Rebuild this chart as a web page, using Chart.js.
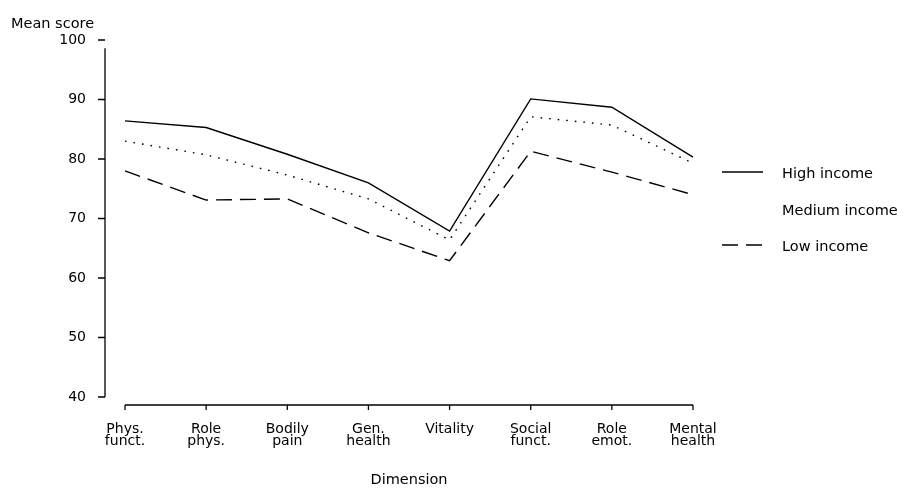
<!DOCTYPE html>
<html>
<head>
<meta charset="utf-8">
<title>Mean score by dimension and income</title>
<script src="https://cdn.jsdelivr.net/npm/chart.js@4/dist/chart.umd.min.js"></script>
<style>
  html, body { margin: 0; padding: 0; background: #fff; }
  canvas { display: block; }
</style>
</head>
<body>
<canvas id="chart" width="906" height="491"></canvas>
<script>
// Chart values.
var dimensions = [
    ['Phys.', 'funct.'], ['Role', 'phys.'], ['Bodily', 'pain'], ['Gen.', 'health'],
    'Vitality', ['Social', 'funct.'], ['Role', 'emot.'], ['Mental', 'health']
];
var highIncome = [86.4, 85.3, 80.8, 76.0, 67.9, 90.1, 88.7, 80.3];
var mediumIncome = [83.0, 80.7, 77.3, 73.3, 66.4, 87.1, 85.7, 79.3];
var lowIncome = [78.0, 73.1, 73.3, 67.6, 62.9, 81.3, 77.8, 74.0];
var seriesNames = ['High income', 'Medium income', 'Low income'];
var scoreTicks = [40, 50, 60, 70, 80, 90, 100];

var ink = '#000';
var fontFamily = '"DejaVu Sans", sans-serif';

Chart.defaults.font.family = fontFamily;
Chart.defaults.color = ink;

/**
 * Draws the hand-made looking axes, the two axis titles and the
 * legend on the right, like the printed figure.
 */
var framePlugin = {
    id: 'frame',
    afterDraw: function(chart) {
        var ctx = chart.ctx;
        var area = chart.chartArea;
        var x = chart.scales.x;
        var y = chart.scales.y;
        var axisX = area.left - 20;
        var axisY = area.bottom + 8;

        ctx.save();
        ctx.strokeStyle = ink;
        ctx.lineWidth = 1.3;

        // Value axis with short ticks to the left.
        ctx.beginPath();
        ctx.moveTo(axisX, y.getPixelForValue(98.6));
        ctx.lineTo(axisX, y.getPixelForValue(40));
        scoreTicks.forEach(function(v) {
            var py = y.getPixelForValue(v);
            ctx.moveTo(axisX - 7, py);
            ctx.lineTo(axisX, py);
        });
        ctx.stroke();

        // Dimension axis with small ticks hanging down.
        ctx.beginPath();
        ctx.moveTo(area.left, axisY);
        ctx.lineTo(area.right, axisY);
        dimensions.forEach(function(d, i) {
            var px = x.getPixelForValue(i);
            ctx.moveTo(px, axisY);
            ctx.lineTo(px, axisY + 5);
        });
        ctx.stroke();

        // Axis titles.
        ctx.fillStyle = ink;
        ctx.font = '14.5px ' + fontFamily;
        ctx.textBaseline = 'middle';
        ctx.textAlign = 'left';
        ctx.fillText('Mean score', 11, 24);
        ctx.textAlign = 'center';
        ctx.fillText('Dimension', (area.left + area.right) / 2, 480);

        // Legend.
        var rows = [174, 211, 247];
        chart.data.datasets.forEach(function(ds, i) {
            var ly = rows[i];
            if (ds.legendLine !== false) {
                ctx.setLineDash(ds.borderDash || []);
                ctx.beginPath();
                ctx.moveTo(area.right + 29, ly - 2);
                ctx.lineTo(area.right + 70, ly - 2);
                ctx.stroke();
                ctx.setLineDash([]);
            }
            ctx.textAlign = 'left';
            ctx.fillText(ds.label, area.right + 89, ly);
        });
        ctx.restore();
    }
};

function makeSeries(label, values, dash) {
    return {
        label: label,
        data: values,
        borderColor: ink,
        borderWidth: 1.4,
        borderDash: dash,
        pointRadius: 0,
        tension: 0,
        fill: false
    };
}

var medium = makeSeries(seriesNames[1], mediumIncome, [1.6, 7]);
medium.legendLine = false;

new Chart(document.getElementById('chart'), {
    type: 'line',
    data: {
        labels: dimensions,
        datasets: [
            makeSeries(seriesNames[0], highIncome, []),
            medium,
            makeSeries(seriesNames[2], lowIncome, [16, 8])
        ]
    },
    options: {
        responsive: false,
        animation: false,
        devicePixelRatio: 1,
        layout: {padding: {top: 40, right: 213, left: 0, bottom: 0}},
        scales: {
            x: {
                offset: false,
                // grid is hidden, tickLength only spaces the labels
                grid: {display: false, drawTicks: true, tickLength: 22},
                border: {display: false},
                ticks: {
                    padding: 4,
                    maxRotation: 0,
                    autoSkip: false,
                    color: ink,
                    font: {size: 14, lineHeight: 0.88}
                },
                afterFit: function(scale) {
                    scale.height = 94;
                }
            },
            y: {
                min: 40,
                max: 100,
                grid: {display: false, drawTicks: true, tickLength: 33},
                border: {display: false},
                ticks: {
                    stepSize: 10,
                    padding: 6,
                    color: ink,
                    font: {size: 14}
                },
                afterFit: function(scale) {
                    scale.width = 125;
                }
            }
        },
        plugins: {
            legend: {display: false},
            tooltip: {enabled: false}
        }
    },
    plugins: [framePlugin]
});
</script>
</body>
</html>
